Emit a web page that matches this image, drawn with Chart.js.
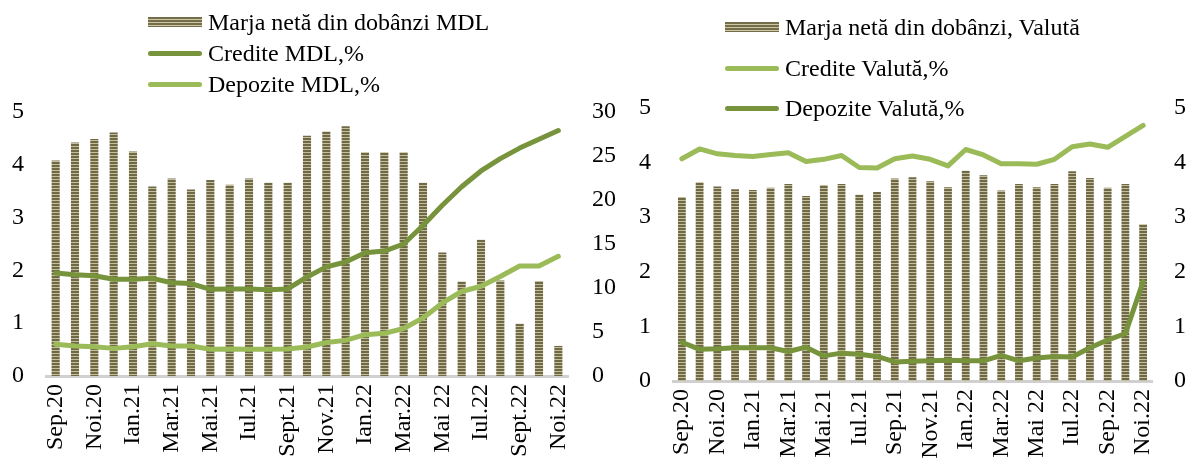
<!DOCTYPE html>
<html>
<head>
<meta charset="utf-8">
<script src="https://cdn.jsdelivr.net/npm/chart.js@4"></script>
<style>
body{margin:0;background:#fff;width:1187px;height:467px;overflow:hidden;position:relative;font-family:"Liberation Serif",serif;}
canvas{position:absolute;top:0;}
#c1{left:0;}
#c2{left:610px;}
.leg{position:absolute;height:30px;line-height:30px;font-size:24px;color:#000;white-space:nowrap;}
.leg span{position:absolute;top:50%;}
.sw-bar{height:10px;margin-top:-5px;background:repeating-linear-gradient(to bottom,#746d49 0px,#746d49 2px,#cdc7a6 2px,#cdc7a6 3px);}
.sw-line{height:5px;margin-top:-2.5px;border-radius:3px;}
</style>
</head>
<body>
<canvas id="c1" width="625" height="467"></canvas>
<canvas id="c2" width="577" height="467"></canvas>
<div id="legends"></div>
<script>
/* DATA */
let ticksMDL=["Sep.20","Noi.20","Ian.21","Mar.21","Mai.21","Iul.21","Sept.21","Nov.21","Ian.22","Mar.22","Mai 22","Iul.22","Sept.22","Noi.22"];
let ticksVal=["Sep.20","Noi.20","Ian.21","Mar.21","Mai.21","Iul.21","Sep.21","Nov.21","Ian.22","Mar.22","Mai 22","Iul.22","Sep.22","Noi.22"];

let marjaMDL=[4.08,4.42,4.49,4.61,4.25,3.59,3.74,3.53,3.71,3.62,3.74,3.66,3.66,4.55,4.63,4.73,4.24,4.24,4.24,3.66,2.34,1.79,2.58,1.81,0.99,1.80,0.57];
let crediteMDL=[11.7,11.5,11.4,11.0,11.0,11.1,10.6,10.5,9.85,9.9,9.9,9.8,9.9,11.25,12.4,12.95,14.0,14.2,15.0,17.1,19.4,21.5,23.3,24.7,25.9,26.9,27.9];
let depoziteMDL=[3.6,3.4,3.33,3.14,3.33,3.67,3.4,3.4,3.03,3.07,3.03,3.03,3.07,3.3,3.8,4.05,4.7,4.85,5.4,6.6,8.3,9.6,10.2,11.3,12.5,12.5,13.6];

let marjaVal=[3.37,3.64,3.56,3.51,3.50,3.54,3.61,3.39,3.59,3.61,3.41,3.46,3.71,3.73,3.66,3.55,3.85,3.77,3.49,3.61,3.55,3.61,3.84,3.72,3.54,3.61,2.87];
let crediteVal=[4.07,4.25,4.16,4.13,4.11,4.15,4.18,4.02,4.06,4.13,3.91,3.90,4.07,4.12,4.06,3.94,4.24,4.14,3.98,3.98,3.97,4.06,4.29,4.34,4.28,4.48,4.68];
let depoziteVal=[0.71,0.58,0.59,0.61,0.61,0.61,0.54,0.62,0.46,0.51,0.49,0.45,0.35,0.36,0.37,0.38,0.37,0.37,0.47,0.37,0.42,0.45,0.44,0.61,0.75,0.87,1.82];

let namesMDL=["Marja netă din dobânzi MDL","Credite MDL,%","Depozite MDL,%"];
let namesVal=["Marja netă din dobânzi, Valută","Credite Valută,%","Depozite Valută,%"];

const DARK="#77933c", LIGHT="#9bbb59", AXIS="#d0d0d0";

Chart.defaults.font.family='"Liberation Serif", serif';
Chart.defaults.font.size=24;
Chart.defaults.color="#000";

/* label every second month */
function makeLabels(ticks,n){
let out=[];
for(let i=0;i<n;i++) out.push(i%2===0 ? ticks[i/2] : "");
return out;
}

/* striped bar fill */
function stripes(){
let c=document.createElement("canvas");
c.width=4;c.height=3;
let g=c.getContext("2d");
g.fillStyle="#c4be9c";g.fillRect(0,0,4,3);
g.fillStyle="#6f6946";g.fillRect(0,0,4,2);
return g.createPattern(c,"repeat");
}

function fixW(w){return s=>{s.width=w;};}
function fixH(h){return s=>{s.height=h;};}

function makeChart(id,o){
return new Chart(document.getElementById(id),{
type:"bar",
data:{
labels:makeLabels(o.ticks,o.bars.length),
datasets:[
{type:"bar",label:o.names[0],data:o.bars,backgroundColor:stripes(),barPercentage:o.barPct,categoryPercentage:1,yAxisID:"y",order:3},
{type:"line",label:o.names[1],data:o.l1,borderColor:o.c1,borderWidth:5,pointRadius:0,tension:0,borderJoinStyle:"round",borderCapStyle:"round",yAxisID:"y1",order:1},
{type:"line",label:o.names[2],data:o.l2,borderColor:o.c2,borderWidth:5,pointRadius:0,tension:0,borderJoinStyle:"round",borderCapStyle:"round",yAxisID:"y1",order:2}
]
},
options:{
responsive:false,
devicePixelRatio:1,
animation:false,
layout:{padding:{top:o.top,left:0,right:0,bottom:0}},
plugins:{legend:{display:false},tooltip:{enabled:false}},
scales:{
x:{
grid:{display:true,drawOnChartArea:false,drawTicks:false,color:"transparent"},
border:{display:true,color:AXIS,width:3},
ticks:{autoSkip:false,minRotation:90,maxRotation:90,padding:8},
afterFit:fixH(o.xh)
},
y:{
position:"left",min:0,max:5,
grid:{display:false,drawTicks:false},border:{display:false},
ticks:{stepSize:1,padding:22},
afterFit:fixW(o.lw)
},
y1:{
position:"right",min:0,max:o.rmax,
grid:{display:false,drawTicks:false},border:{display:false},
ticks:{stepSize:o.rstep,padding:o.rpad},
afterFit:fixW(o.rw)
}
}
}
});
}

makeChart("c1",{ticks:ticksMDL,names:namesMDL,bars:marjaMDL,l1:crediteMDL,l2:depoziteMDL,c1:DARK,c2:LIGHT,
barPct:0.42,top:112,xh:91,lw:46,rw:57,rmax:30,rstep:5,rpad:24});

makeChart("c2",{ticks:ticksVal,names:namesVal,bars:marjaVal,l1:crediteVal,l2:depoziteVal,c1:LIGHT,c2:DARK,
barPct:0.44,top:108,xh:86,lw:63,rw:35,rmax:5,rstep:1,rpad:22});

/* LEGENDS */
function legend(names,cols,x,rows){
let box=document.getElementById("legends");
names.forEach((n,i)=>{
let d=document.createElement("div");
d.className="leg";
d.style.left=x+"px";
d.style.top=(rows[i]-15)+"px";
let sw=i===0 ? '<span class="sw-bar" style="left:0;width:54px"></span>'
 : '<span class="sw-line" style="left:0;width:54px;background:'+cols[i]+'"></span>';
d.innerHTML=sw+'<b style="position:absolute;left:60px;font-weight:normal">'+n+'</b>';
box.appendChild(d);
});
}
legend(namesMDL,[null,DARK,LIGHT],148,[22,53,84]);
legend(namesVal,[null,LIGHT,DARK],725,[27,68,108]);
</script>
</body>
</html>
